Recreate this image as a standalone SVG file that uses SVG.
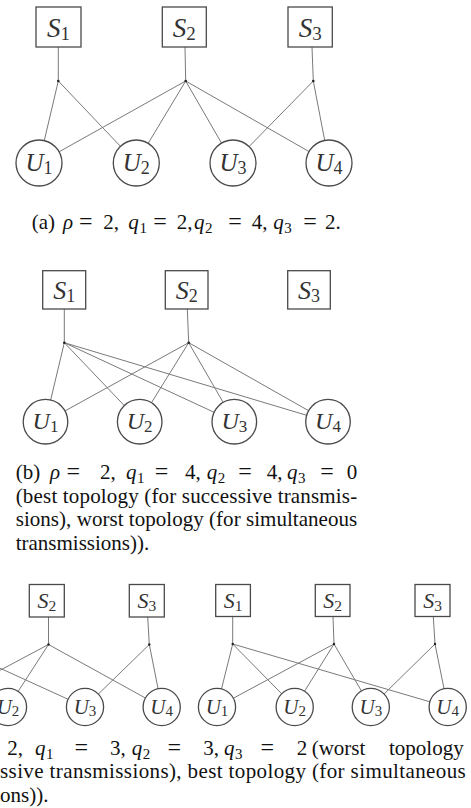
<svg xmlns="http://www.w3.org/2000/svg" width="471" height="808" viewBox="0 0 471 808">
<style>
.box{fill:#fff;stroke:#4a4a4a;stroke-width:1.3}
.cir{fill:#fff;stroke:#4a4a4a;stroke-width:1.3}
.e{stroke:#7a7a7a;stroke-width:1;fill:none}
.dot{fill:#222}
.lbl{font-family:"Liberation Serif",serif;font-style:italic;fill:#333;text-anchor:middle}
.sub{font-style:normal}
.cap{font-family:"Liberation Serif",serif;font-size:21px;fill:#111}
.it{font-style:italic}
.s{font-size:15px}
.eq{font-size:24px}
</style>
<rect width="471" height="808" fill="#fff"/>

<!-- connectors -->
<g id="connectors">
  <!-- (a) -->
  <line class="e" x1="58.3" y1="47" x2="58.3" y2="81"/>
  <line class="e" x1="185" y1="47" x2="185.7" y2="81"/>
  <line class="e" x1="312" y1="47" x2="313.3" y2="81"/>
  <line class="e" x1="58.3" y1="81" x2="39" y2="163"/>
  <line class="e" x1="58.3" y1="81" x2="136.3" y2="163"/>
  <line class="e" x1="185.7" y1="81" x2="39" y2="163"/>
  <line class="e" x1="185.7" y1="81" x2="136.3" y2="163"/>
  <line class="e" x1="185.7" y1="81" x2="233" y2="163"/>
  <line class="e" x1="185.7" y1="81" x2="329" y2="163"/>
  <line class="e" x1="313.3" y1="81" x2="233" y2="163"/>
  <line class="e" x1="313.3" y1="81" x2="329" y2="163"/>
  <!-- (b) -->
  <line class="e" x1="64.3" y1="309" x2="64.3" y2="342.7"/>
  <line class="e" x1="187.3" y1="309" x2="188.7" y2="342.7"/>
  <line class="e" x1="64.3" y1="342.7" x2="45.5" y2="421.7"/>
  <line class="e" x1="64.3" y1="342.7" x2="139.7" y2="421.7"/>
  <line class="e" x1="64.3" y1="342.7" x2="234.3" y2="421.7"/>
  <line class="e" x1="64.3" y1="342.7" x2="328" y2="421.7"/>
  <line class="e" x1="188.7" y1="342.7" x2="45.5" y2="421.7"/>
  <line class="e" x1="188.7" y1="342.7" x2="139.7" y2="421.7"/>
  <line class="e" x1="188.7" y1="342.7" x2="234.3" y2="421.7"/>
  <line class="e" x1="188.7" y1="342.7" x2="328" y2="421.7"/>
  <!-- (c) left -->
  <line class="e" x1="48.5" y1="617" x2="48.5" y2="644.5"/>
  <line class="e" x1="147.7" y1="617" x2="149.3" y2="644.5"/>
  <line class="e" x1="48.5" y1="644.5" x2="0" y2="670.3"/>
  <line class="e" x1="0" y1="668.2" x2="85" y2="707"/>
  <line class="e" x1="48.5" y1="644.5" x2="8" y2="707"/>
  <line class="e" x1="48.5" y1="644.5" x2="161.7" y2="707"/>
  <line class="e" x1="149.3" y1="644.5" x2="85" y2="707"/>
  <line class="e" x1="149.3" y1="644.5" x2="161.7" y2="707"/>
  <!-- (c) right -->
  <line class="e" x1="232.7" y1="616.5" x2="232.7" y2="644"/>
  <line class="e" x1="333" y1="616.5" x2="334" y2="644"/>
  <line class="e" x1="433.3" y1="616.5" x2="435" y2="644"/>
  <line class="e" x1="232.7" y1="644" x2="217" y2="707"/>
  <line class="e" x1="232.7" y1="644" x2="294.7" y2="707"/>
  <line class="e" x1="232.7" y1="644" x2="447.7" y2="707"/>
  <line class="e" x1="334" y1="644" x2="217" y2="707"/>
  <line class="e" x1="334" y1="644" x2="294.7" y2="707"/>
  <line class="e" x1="334" y1="644" x2="370.8" y2="707"/>
  <line class="e" x1="435" y1="644" x2="370.8" y2="707"/>
  <line class="e" x1="435" y1="644" x2="447.7" y2="707"/>
  <!-- junction dots -->
  <circle class="dot" cx="58.3" cy="81" r="1.3"/>
  <circle class="dot" cx="185.7" cy="81" r="1.3"/>
  <circle class="dot" cx="313.3" cy="81" r="1.3"/>
  <circle class="dot" cx="64.3" cy="342.7" r="1.3"/>
  <circle class="dot" cx="188.7" cy="342.7" r="1.3"/>
  <circle class="dot" cx="48.5" cy="644.5" r="1.2"/>
  <circle class="dot" cx="149.3" cy="644.5" r="1.2"/>
  <circle class="dot" cx="232.7" cy="644" r="1.2"/>
  <circle class="dot" cx="334" cy="644" r="1.2"/>
  <circle class="dot" cx="435" cy="644" r="1.2"/>
</g>

<!-- (a) nodes -->
<g id="a-S1"><rect class="box" x="36" y="7" width="45" height="40"/><text class="lbl" x="58.5" y="36.5" font-size="27">S<tspan class="sub" font-size="19" dy="3">1</tspan></text></g>
<g id="a-S2"><rect class="box" x="162.3" y="7" width="44" height="40"/><text class="lbl" x="184.3" y="36.5" font-size="27">S<tspan class="sub" font-size="19" dy="3">2</tspan></text></g>
<g id="a-S3"><rect class="box" x="288" y="7" width="44.3" height="40"/><text class="lbl" x="310.2" y="36.5" font-size="27">S<tspan class="sub" font-size="19" dy="3">3</tspan></text></g>
<g id="a-U1"><circle class="cir" cx="39" cy="163" r="23"/><text class="lbl" x="39" y="170.5" font-size="25">U<tspan class="sub" font-size="18" dy="3">1</tspan></text></g>
<g id="a-U2"><circle class="cir" cx="136.3" cy="163" r="23"/><text class="lbl" x="136.3" y="170.5" font-size="25">U<tspan class="sub" font-size="18" dy="3">2</tspan></text></g>
<g id="a-U3"><circle class="cir" cx="233" cy="163" r="23"/><text class="lbl" x="233" y="170.5" font-size="25">U<tspan class="sub" font-size="18" dy="3">3</tspan></text></g>
<g id="a-U4"><circle class="cir" cx="329" cy="163" r="23"/><text class="lbl" x="329" y="170.5" font-size="25">U<tspan class="sub" font-size="18" dy="3">4</tspan></text></g>

<!-- (a) caption -->
<text class="cap" id="cap-a" y="229">
  <tspan x="31.7">(a)</tspan><tspan x="63" class="it">ρ</tspan><tspan x="79" class="eq">=</tspan><tspan x="103.3">2,</tspan>
  <tspan x="128.3" class="it">q</tspan><tspan x="139.5" y="233" class="s">1</tspan><tspan x="153.3" y="229" class="eq">=</tspan><tspan x="176.7">2,</tspan>
  <tspan x="194" class="it">q</tspan><tspan x="205" y="233" class="s">2</tspan><tspan x="228.3" y="229" class="eq">=</tspan><tspan x="251.7">4,</tspan>
  <tspan x="273.3" class="it">q</tspan><tspan x="284.3" y="233" class="s">3</tspan><tspan x="303.3" y="229" class="eq">=</tspan><tspan x="325">2.</tspan>
</text>

<!-- (b) nodes -->
<g id="b-S1"><rect class="box" x="42.7" y="270.7" width="43" height="38.3"/><text class="lbl" x="64.2" y="299" font-size="26">S<tspan class="sub" font-size="18" dy="3">1</tspan></text></g>
<g id="b-S2"><rect class="box" x="165.3" y="270.7" width="42.7" height="38.3"/><text class="lbl" x="186.7" y="299" font-size="26">S<tspan class="sub" font-size="18" dy="3">2</tspan></text></g>
<g id="b-S3"><rect class="box" x="287.7" y="270.7" width="42.6" height="38.3"/><text class="lbl" x="309" y="299" font-size="26">S<tspan class="sub" font-size="18" dy="3">3</tspan></text></g>
<g id="b-U1"><circle class="cir" cx="45.5" cy="421.7" r="22.3"/><text class="lbl" x="45.5" y="429" font-size="24">U<tspan class="sub" font-size="17" dy="3">1</tspan></text></g>
<g id="b-U2"><circle class="cir" cx="139.7" cy="421.7" r="22.3"/><text class="lbl" x="139.7" y="429" font-size="24">U<tspan class="sub" font-size="17" dy="3">2</tspan></text></g>
<g id="b-U3"><circle class="cir" cx="234.3" cy="421.7" r="22.3"/><text class="lbl" x="234.3" y="429" font-size="24">U<tspan class="sub" font-size="17" dy="3">3</tspan></text></g>
<g id="b-U4"><circle class="cir" cx="328" cy="421.7" r="22.3"/><text class="lbl" x="328" y="429" font-size="24">U<tspan class="sub" font-size="17" dy="3">4</tspan></text></g>

<!-- (b) caption -->
<g id="cap-b" class="cap">
<text y="479">
  <tspan x="15.7">(b)</tspan><tspan x="50" class="it">ρ</tspan><tspan x="66.6" class="eq">=</tspan><tspan x="100">2,</tspan>
  <tspan x="126" class="it">q</tspan><tspan x="137" y="483" class="s">1</tspan><tspan x="154.8" y="479" class="eq">=</tspan><tspan x="185">4,</tspan>
  <tspan x="206.7" class="it">q</tspan><tspan x="217.7" y="483" class="s">2</tspan><tspan x="238.3" y="479" class="eq">=</tspan><tspan x="266.7">4,</tspan>
  <tspan x="287" class="it">q</tspan><tspan x="298" y="483" class="s">3</tspan><tspan x="320.3" y="479" class="eq">=</tspan><tspan x="346.7">0</tspan>
</text>
<text x="15.7" y="502.7" textLength="341.5" lengthAdjust="spacing">(best topology (for successive transmis-</text>
<text x="15.7" y="526.3" textLength="341.5" lengthAdjust="spacing">sions), worst topology (for simultaneous</text>
<text x="15.7" y="550">transmissions)).</text>
</g>

<!-- (c) left nodes -->
<g id="c1-S2"><rect class="box" x="29.3" y="584.5" width="35" height="32.5"/><text class="lbl" x="46.8" y="608" font-size="22">S<tspan class="sub" font-size="15.5" dy="2.5">2</tspan></text></g>
<g id="c1-S3"><rect class="box" x="129.3" y="584.5" width="35" height="32.5"/><text class="lbl" x="146.8" y="608" font-size="22">S<tspan class="sub" font-size="15.5" dy="2.5">3</tspan></text></g>
<g id="c1-U2"><circle class="cir" cx="8" cy="707" r="18.6"/><text class="lbl" x="8" y="713.5" font-size="21">U<tspan class="sub" font-size="15" dy="2.5">2</tspan></text></g>
<g id="c1-U3"><circle class="cir" cx="85" cy="707" r="18.6"/><text class="lbl" x="85" y="713.5" font-size="21">U<tspan class="sub" font-size="15" dy="2.5">3</tspan></text></g>
<g id="c1-U4"><circle class="cir" cx="161.7" cy="707" r="18.6"/><text class="lbl" x="161.7" y="713.5" font-size="21">U<tspan class="sub" font-size="15" dy="2.5">4</tspan></text></g>

<!-- (c) right nodes -->
<g id="c2-S1"><rect class="box" x="215.7" y="584.5" width="34.7" height="32"/><text class="lbl" x="233" y="608" font-size="22">S<tspan class="sub" font-size="15.5" dy="2.5">1</tspan></text></g>
<g id="c2-S2"><rect class="box" x="315.3" y="584.5" width="34.7" height="32"/><text class="lbl" x="332.7" y="608" font-size="22">S<tspan class="sub" font-size="15.5" dy="2.5">2</tspan></text></g>
<g id="c2-S3"><rect class="box" x="415" y="584.5" width="35" height="32"/><text class="lbl" x="432.5" y="608" font-size="22">S<tspan class="sub" font-size="15.5" dy="2.5">3</tspan></text></g>
<g id="c2-U1"><circle class="cir" cx="217" cy="707" r="18.6"/><text class="lbl" x="217" y="713.5" font-size="21">U<tspan class="sub" font-size="15" dy="2.5">1</tspan></text></g>
<g id="c2-U2"><circle class="cir" cx="294.7" cy="707" r="18.6"/><text class="lbl" x="294.7" y="713.5" font-size="21">U<tspan class="sub" font-size="15" dy="2.5">2</tspan></text></g>
<g id="c2-U3"><circle class="cir" cx="370.8" cy="707" r="18.6"/><text class="lbl" x="370.8" y="713.5" font-size="21">U<tspan class="sub" font-size="15" dy="2.5">3</tspan></text></g>
<g id="c2-U4"><circle class="cir" cx="447.7" cy="707" r="18.6"/><text class="lbl" x="447.7" y="713.5" font-size="21">U<tspan class="sub" font-size="15" dy="2.5">4</tspan></text></g>

<!-- (c) caption (as visible) -->
<g id="cap-c" class="cap">
<text y="754.5">
  <tspan x="7.3">2,</tspan>
  <tspan x="35" class="it">q</tspan><tspan x="46" y="758.5" class="s">1</tspan><tspan x="74.5" y="754.5" class="eq">=</tspan><tspan x="110">3,</tspan>
  <tspan x="131.7" class="it">q</tspan><tspan x="142.7" y="758.5" class="s">2</tspan><tspan x="167.5" y="754.5" class="eq">=</tspan><tspan x="203.3">3,</tspan>
  <tspan x="224" class="it">q</tspan><tspan x="235" y="758.5" class="s">3</tspan><tspan x="260.5" y="754.5" class="eq">=</tspan><tspan x="296.7">2</tspan>
  <tspan x="311.7">(worst</tspan><tspan x="389">topology</tspan>
</text>
<text x="0" y="778" textLength="465.7" lengthAdjust="spacing">ssive transmissions), best topology (for simultaneous</text>
<text x="0" y="801.5">ons)).</text>
</g>
</svg>
